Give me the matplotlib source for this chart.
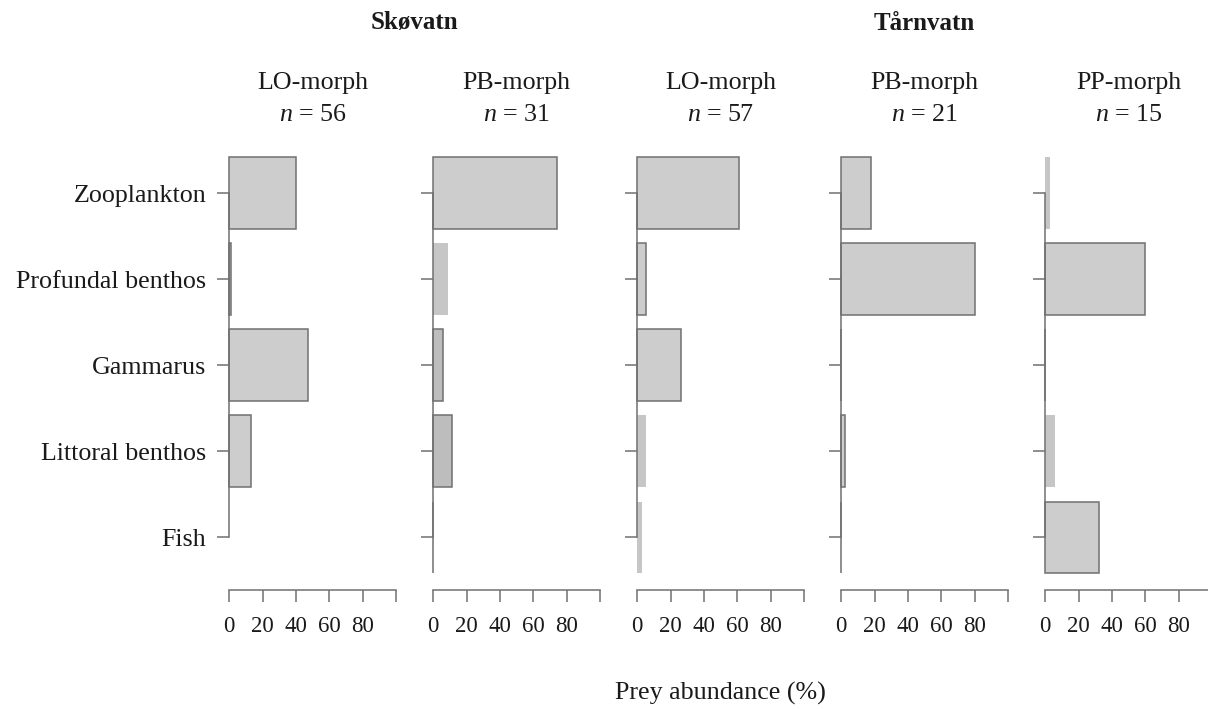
import matplotlib.pyplot as plt
import numpy as np

plt.rcParams['font.family'] = ['Liberation Serif', 'DejaVu Serif']
plt.rcParams['mathtext.fontset'] = 'custom'
plt.rcParams['mathtext.rm'] = 'Liberation Serif'
plt.rcParams['mathtext.it'] = 'Liberation Serif:italic'

# data
categories = ["Zooplankton", "Profundal benthos", "Gammarus", "Littoral benthos", "Fish"]
lakes = ["Skøvatn", "Tårnvatn"]
morphs = ["LO-morph", "PB-morph", "LO-morph", "PB-morph", "PP-morph"]
sample_n = [56, 31, 57, 21, 15]
sko_lo = [40, 1, 47, 13, 0]
sko_pb = [74, 9, 6, 11, 0]
tar_lo = [61, 5, 26, 5, 3]
tar_pb = [18, 80, 0, 2, 0]
tar_pp = [3, 60, 0, 6, 32]
x_ticks = [0, 20, 40, 60, 80, 100]
x_tick_labels = ["0", "20", "40", "60", "80", ""]

panels = [sko_lo, sko_pb, tar_lo, tar_pb, tar_pp]

# bars drawn without border / darker fill in the original
no_edge = {(0, 4), (1, 1), (2, 3), (2, 4), (4, 0), (4, 3)}
darker = {(1, 2), (1, 3)}

W, H = 1208, 709
fig = plt.figure(figsize=(W / 100, H / 100), dpi=100)

axis_col = "#707070"
text_col = "#1a1a1a"
ypos = np.arange(len(categories))[::-1]

for i, vals in enumerate(panels):
    left = 229.3 + 204 * i
    ax = fig.add_axes([left / W, 1 - 589.8 / H, 166.7 / W, 449 / H])
    for j, v in enumerate(vals):
        face = "#bdbdbd" if (i, j) in darker else "#cdcdcd"
        if (i, j) in no_edge:
            ax.barh(ypos[j], v, height=0.833, color="#c6c6c6", linewidth=0, clip_on=False)
        else:
            ax.barh(ypos[j], v, height=0.833, color=face, edgecolor=axis_col,
                    linewidth=1.1, clip_on=False)
    ax.set_xlim(0, 100)
    ax.set_ylim(-0.61, 4.61)
    for s in ["top", "right"]:
        ax.spines[s].set_visible(False)
    ax.spines["left"].set_bounds(0, 4)
    ax.spines["bottom"].set_bounds(0, 100)
    for s in ["left", "bottom"]:
        ax.spines[s].set_color(axis_col)
        ax.spines[s].set_linewidth(1.1)
    ax.set_yticks(ypos)
    ax.set_yticklabels(categories if i == 0 else [])
    ax.set_xticks(x_ticks)
    ax.set_xticklabels(x_tick_labels)
    ax.tick_params(axis="both", direction="out", length=8.6, width=1.1, color=axis_col,
                   labelcolor=text_col)
    ax.tick_params(axis="y", labelsize=18.7, pad=8)
    ax.tick_params(axis="x", labelsize=16.5, pad=10)
    ax.patch.set_visible(False)

    cx = (left + 83.35) / W
    fig.text(cx, 1 - 83 / H, morphs[i], ha="center", va="center", fontsize=18.7, color=text_col)
    fig.text(cx, 1 - 115 / H, "$n$ = %d" % sample_n[i], ha="center", va="center",
             fontsize=18.7, color=text_col)

fig.text(414.7 / W, 1 - 23 / H, lakes[0], ha="center", va="center", fontsize=18,
         fontweight="bold", color=text_col)
fig.text(924.6 / W, 1 - 23 / H, lakes[1], ha="center", va="center", fontsize=18,
         fontweight="bold", color=text_col)
fig.text(720 / W, 1 - 693 / H, "Prey abundance (%)", ha="center", va="center",
         fontsize=18.7, color=text_col)

fig.savefig("out.png", dpi=100)
